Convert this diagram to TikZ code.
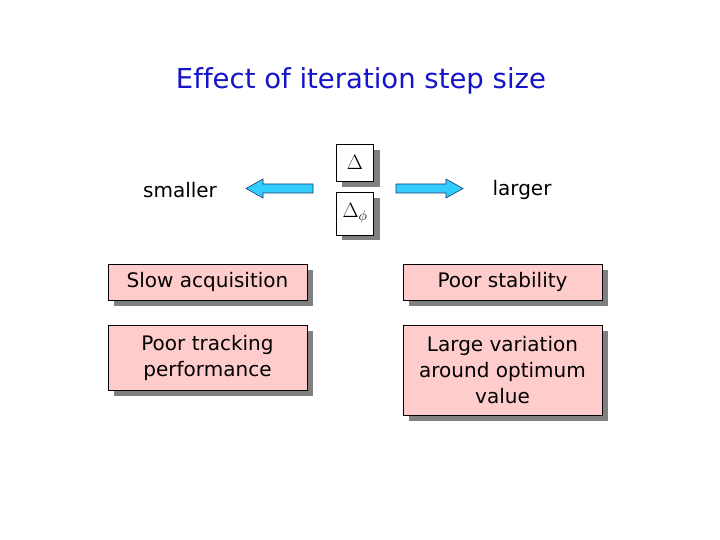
\documentclass[tikz,border=0pt]{standalone}
\usepackage{fontspec}
\setmainfont{DejaVu Sans}[Ligatures=NoCommon]
\usetikzlibrary{shapes.arrows}
\definecolor{titleblue}{RGB}{20,20,200}
\definecolor{pinkfill}{RGB}{255,204,204}
\definecolor{shadowgray}{RGB}{128,128,128}
\definecolor{arrowcyan}{RGB}{51,204,255}
\definecolor{arrowedge}{RGB}{20,60,110}
\tikzset{
  x=1pt, y=-1pt,
  pinkbox/.style={draw=black, line width=0.8pt, fill=pinkfill, font=\fontsize{20}{26}\selectfont, align=center, inner sep=0pt},
  whitebox/.style={draw=black, line width=0.8pt, fill=white, inner sep=0pt},
  bigarrow/.style={fill=arrowcyan, draw=arrowedge, line width=0.6pt},
  plain/.style={font=\fontsize{20}{22}\selectfont}
}
\begin{document}
\begin{tikzpicture}
\useasboundingbox (0,0) rectangle (720,540);
\node[font=\fontsize{27.5}{32}\selectfont, text=titleblue] (title) at (361,81) {Effect of iteration step size};
% Delta boxes
\fill[shadowgray] (342,150) rectangle (380,187);
\node[whitebox, minimum width=37pt, minimum height=37pt] (d1) at (355,162.5) {\fontsize{21}{21}\selectfont$\Delta$};
\fill[shadowgray] (342,198) rectangle (380,240);
\node[whitebox, minimum width=37pt, minimum height=43pt] (d2) at (355,213.5) {\fontsize{21}{21}\selectfont$\Delta_{\phi}$};
% arrows
\draw[bigarrow] (313,184) -- (263,184) -- (263,179) -- (246,188.5) -- (263,198) -- (263,193) -- (313,193) -- cycle;
\draw[bigarrow] (396,184) -- (446,184) -- (446,179) -- (463,188.5) -- (446,198) -- (446,193) -- (396,193) -- cycle;
\node[plain] (smaller) at (180,190) {smaller};
\node[plain] (larger) at (522,190) {larger};
% pink boxes
\fill[shadowgray] (114,270) rectangle (313,306);
\node[pinkbox, minimum width=199pt, minimum height=36pt] (slow) at (207.5,282) {Slow acquisition};
\fill[shadowgray] (114,331) rectangle (313,396);
\node[pinkbox, minimum width=199pt, minimum height=65pt] (track) at (207.5,357.5) {Poor tracking\\performance};
\fill[shadowgray] (409,270) rectangle (608,306);
\node[pinkbox, minimum width=199pt, minimum height=36pt] (stab) at (502.5,282) {Poor stability};
\fill[shadowgray] (409,331) rectangle (608,421);
\node[pinkbox, minimum width=199pt, minimum height=90pt] (var) at (502.5,370) {Large variation\\around optimum\\value};
\end{tikzpicture}
\end{document}
